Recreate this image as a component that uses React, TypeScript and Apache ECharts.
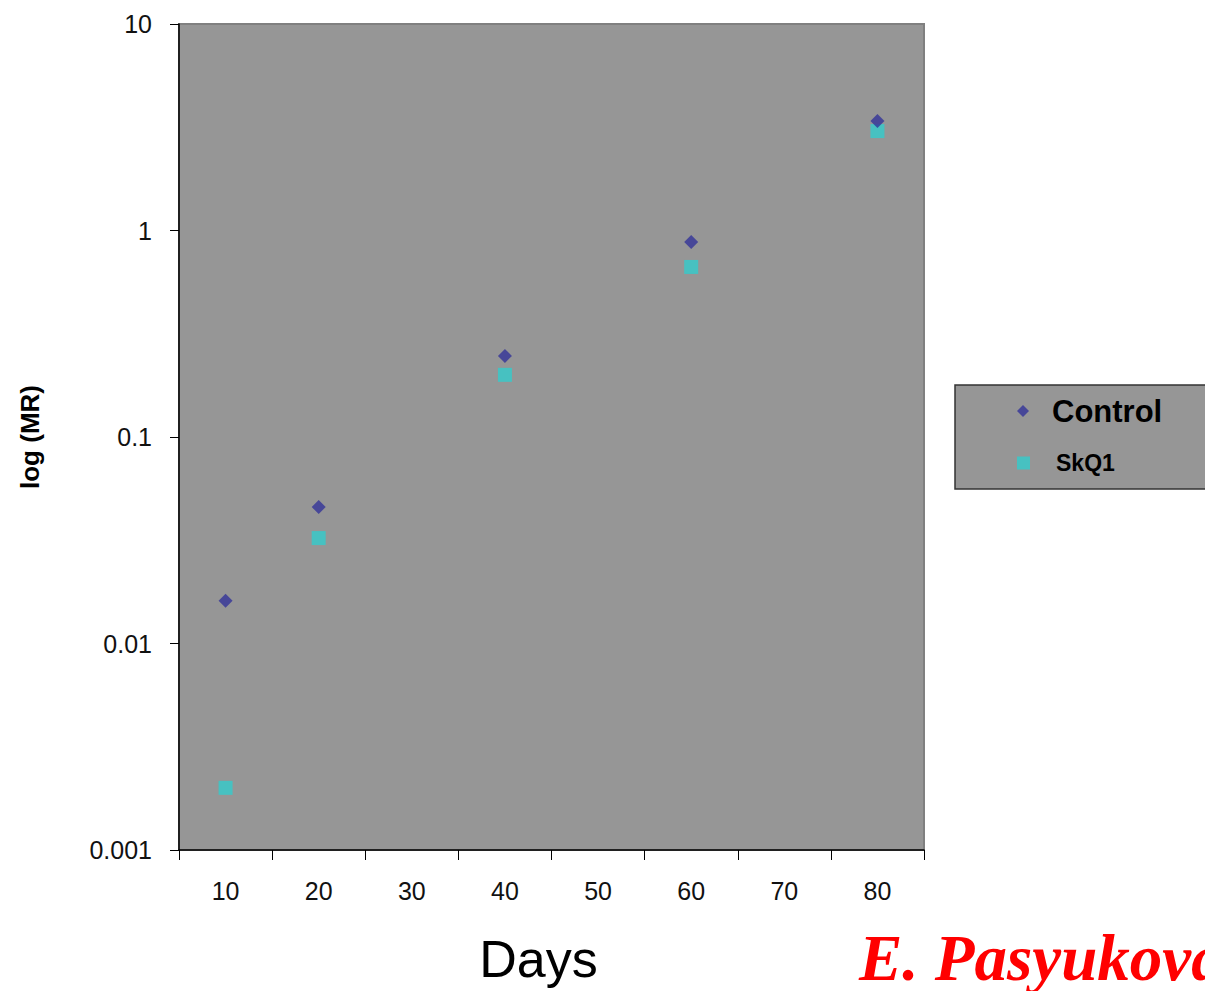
import React, { useEffect, useRef } from "react";
import * as echarts from "echarts";

const categories = ["10", "20", "30", "40", "50", "60", "70", "80"];
const controlValues: (number | null)[] = [0.0161, 0.0458, null, 0.247, null, 0.88, null, 3.39];
const skq1Values: (number | null)[] = [0.002, 0.0324, null, 0.2, null, 0.666, null, 3.03];
const yTickLabels = ["0.001", "0.01", "0.1", "1", "10"];

export default function App() {
  const ref = useRef<HTMLDivElement>(null);
  useEffect(() => {
    if (!ref.current) return;
    const chart = echarts.init(ref.current, null, { renderer: "svg" });
    const font = "Arial, 'Liberation Sans', sans-serif";
    chart.setOption({
      animation: false,
      textStyle: { fontFamily: font },
      grid: {
        left: 179,
        top: 24,
        right: 281,
        bottom: 141,
        show: true,
        backgroundColor: "#969696",
        borderColor: "#808080",
        borderWidth: 2,
      },
      xAxis: {
        type: "category",
        data: categories,
        boundaryGap: true,
        name: "Days",
        nameLocation: "middle",
        nameGap: 83,
        nameTextStyle: { fontSize: 52, color: "#000", fontFamily: font, padding: [0, 26, 0, 0] },
        axisLine: { lineStyle: { color: "#000", width: 1.5 } },
        axisTick: { show: true, length: 10, alignWithLabel: false, lineStyle: { color: "#000" } },
        axisLabel: { fontSize: 25, color: "#111", margin: 28, interval: 0 },
        splitLine: { show: false },
      },
      yAxis: {
        type: "log",
        logBase: 10,
        min: 0.001,
        max: 10,
        name: "log (MR)",
        nameLocation: "middle",
        nameRotate: 90,
        nameGap: 136,
        nameTextStyle: { fontSize: 26, fontWeight: "bold", color: "#000", fontFamily: font },
        axisLine: { show: true, lineStyle: { color: "#000", width: 1.5 } },
        axisTick: { show: true, length: 9, lineStyle: { color: "#000" } },
        axisLabel: {
          fontSize: 25,
          color: "#111",
          margin: 27,
          formatter: (v: number) => {
            const i = Math.round(Math.log10(v)) + 3;
            return yTickLabels[i] ?? "";
          },
        },
        splitLine: { show: false },
        minorTick: { show: false },
      },
      legend: [
        {
          data: ["Control"],
          left: 1017,
          top: 392,
          padding: 0,
          itemWidth: 12,
          itemHeight: 12,
          icon: "diamond",
          textStyle: {
            fontSize: 31,
            fontWeight: "bold",
            color: "#000",
            lineHeight: 30,
            padding: [8, 0, 0, 18],
          },
        },
        {
          data: ["SkQ1"],
          left: 1017,
          top: 451,
          padding: 0,
          itemWidth: 13,
          itemHeight: 13,
          icon: "rect",
          textStyle: {
            fontSize: 23,
            fontWeight: "bold",
            color: "#000",
            lineHeight: 24,
            padding: [0, 0, 0, 21],
          },
        },
      ],
      graphic: [
        {
          type: "rect",
          z: -1,
          shape: { x: 955, y: 385, width: 270, height: 104 },
          style: { fill: "#969696", stroke: "#333333", lineWidth: 1.5 },
          silent: true,
        },
        {
          type: "text",
          x: 859,
          y: 925,
          style: {
            text: "E. Pasyukova",
            fill: "#ff0000",
            font: "italic bold 65px 'Liberation Serif', 'Times New Roman', serif",
            textVerticalAlign: "top",
          },
        },
      ],
      series: [
        {
          name: "Control",
          type: "scatter",
          data: controlValues,
          symbol: "diamond",
          symbolSize: 14,
          itemStyle: { color: "#333399" },
          z: 3,
        },
        {
          name: "SkQ1",
          type: "scatter",
          data: skq1Values,
          symbol: "rect",
          symbolSize: 14,
          itemStyle: { color: "#33cccc" },
          z: 2,
        },
      ],
    });
    return () => chart.dispose();
  }, []);
  return (
    <div
      ref={ref}
      style={{ position: "absolute", left: 0, top: 0, width: 1205, height: 991 }}
    />
  );
}
